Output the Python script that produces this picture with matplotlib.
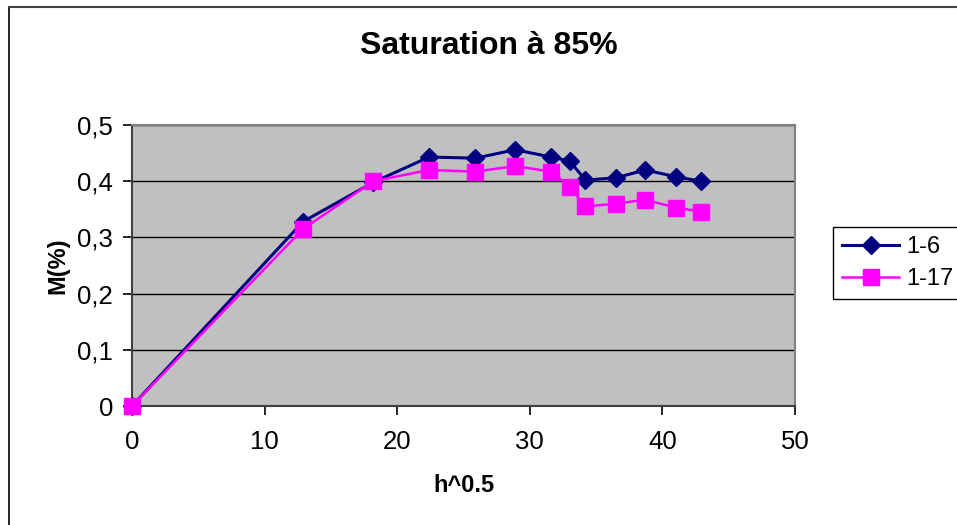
import matplotlib
matplotlib.use("Agg")
import matplotlib.pyplot as plt
from matplotlib.ticker import FuncFormatter, MultipleLocator
from matplotlib.lines import Line2D

# values
h_sqrt = [0, 12.9, 18.2, 22.4, 25.9, 28.9, 31.6, 33.0, 34.2, 36.5, 38.7, 41.0, 42.9]
m_1_6 = [0, 0.328, 0.398, 0.443, 0.441, 0.456, 0.443, 0.436, 0.402, 0.406, 0.420, 0.408, 0.400]
m_1_17 = [0, 0.315, 0.400, 0.420, 0.417, 0.427, 0.417, 0.390, 0.355, 0.360, 0.367, 0.353, 0.346]
series_names = ["1-6", "1-17"]

plt.rcParams["font.family"] = ["Liberation Sans", "DejaVu Sans"]

W, H = 957, 525
fig = plt.figure(figsize=(W / 100, H / 100), dpi=100)
fig.patch.set_facecolor("white")

ax = fig.add_axes([132 / W, 1 - 406 / H, (795 - 132) / W, (406 - 125) / H])
ax.set_facecolor("#C0C0C0")

ax.plot(h_sqrt, m_1_6, color="#000080", linewidth=2.2, marker="D",
        markersize=9, label=series_names[0], clip_on=False, zorder=3)
ax.plot(h_sqrt, m_1_17, color="#FF00FF", linewidth=1.8, marker="s",
        markersize=11, label=series_names[1], clip_on=False, zorder=4)

ax.set_xlim(0, 50)
ax.set_ylim(0, 0.5)
ax.xaxis.set_major_locator(MultipleLocator(10))
ax.yaxis.set_major_locator(MultipleLocator(0.1))


def comma_fmt(v, pos):
    if abs(v) < 1e-9:
        return "0"
    return f"{v:.1f}".replace(".", ",")


ax.yaxis.set_major_formatter(FuncFormatter(comma_fmt))
ax.xaxis.set_major_formatter(FuncFormatter(lambda v, p: f"{int(round(v))}"))

ax.grid(True, axis="y", color="black", linewidth=1.0)
ax.set_axisbelow(True)
for s in ax.spines.values():
    s.set_color("#808080")
    s.set_linewidth(1.5)
ax.spines["left"].set_color("#404040")
ax.spines["bottom"].set_color("#404040")

ax.tick_params(axis="both", direction="out", length=6.5, width=1.2,
               color="black", labelsize=18.5)
ax.tick_params(axis="y", pad=7)
ax.tick_params(axis="x", pad=11)

ax.set_xlabel("h^0.5", fontsize=17, fontweight="bold")
ax.set_ylabel("M(%)", fontsize=17, fontweight="bold")
ax.xaxis.set_label_coords(0.5, -(485 - 406) / (406 - 125), transform=ax.transAxes)
ax.xaxis.label.set_va("center")
ax.yaxis.set_label_coords(-(132 - 58) / (795 - 132), 0.5, transform=ax.transAxes)
ax.yaxis.label.set_va("center")

fig.text(489 / W, 1 - 46 / H, "Saturation à 85%", ha="center", va="center",
         fontsize=23, fontweight="bold")

leg = ax.legend(loc="upper left", bbox_to_anchor=(833 / W, 1 - 227 / H),
                bbox_transform=fig.transFigure, fontsize=17, frameon=True,
                fancybox=False, edgecolor="black", facecolor="white",
                framealpha=1, handlelength=2.4, borderpad=0.4,
                labelspacing=0.4, handletextpad=0.3, borderaxespad=0)
leg.get_frame().set_linewidth(1.0)

# partial outer frame of the chart area
fig.add_artist(Line2D([8.5 / W, 8.5 / W], [0, 1 - 6.5 / H], color="black",
                      linewidth=1.2, transform=fig.transFigure))
fig.add_artist(Line2D([8.5 / W, 1], [1 - 6.5 / H, 1 - 6.5 / H], color="#404040",
                      linewidth=1.5, transform=fig.transFigure))

fig.savefig("out.png", dpi=100)
